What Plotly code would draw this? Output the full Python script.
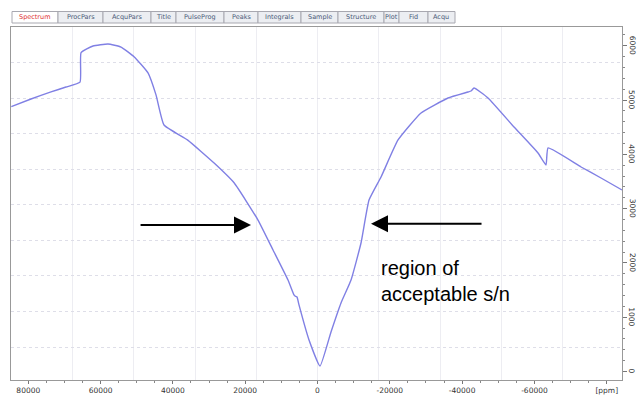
import plotly.graph_objects as go

# ---- data ----
ppm = [84700, 79250, 73720, 69570, 65690, 65400, 62100, 57950, 54350, 50750,
       46880, 44670, 42460, 35900, 28600, 23030, 16460, 12300, 8160, 6500,
       6220, 5670, 5120, 2350, -690, -3730, -6500, -9270, -12030, -14250,
       -17570, -22270, -28630, -36100, -41630, -42460, -43290, -47160, -54350,
       -60990, -63200, -63760, -72890, -78420, -84220]
intensity = [4880, 5020, 5150, 5240, 5330, 5873, 5996, 6033, 5977, 5800,
             5500, 5095, 4540, 4262, 3840, 3472, 2790, 2238, 1685, 1409,
             1390, 1372, 1226, 580, 101, 728, 1262, 1685, 2367, 3159,
             3583, 4265, 4762, 5038, 5149, 5167, 5222, 5038, 4504,
             4025, 3804, 4117, 3767, 3564, 3343]

x_tick_vals = [80000, 60000, 40000, 20000, 0, -20000, -40000, -60000, -80000]
x_tick_text = ["80000", "60000", "40000", "20000", "0", "-20000", "-40000", "-60000", "[ppm]"]
y_tick_vals = [0, 1000, 2000, 3000, 4000, 5000, 6000]
y_tick_text = ["0", "1000", "2000", "3000", "4000", "5000", "6000"]

tab_labels = ["Spectrum", "ProcPars", "AcquPars", "Title", "PulseProg", "Peaks",
              "Integrals", "Sample", "Structure", "Plot", "Fid", "Acqu"]
tab_edges_px = [12, 58, 103, 151, 176, 224, 258, 301, 338, 384, 399, 428, 455]

annotation_text = "region of<br>acceptable s/n"

# ---- layout constants (page pixels; body margin removed by post_script) ----
W, H = 638, 395
PL, PR, PT, PB = 11, 622, 27, 380          # plot area edges on the page
L, R, T, B = PL, W - PR, PT, H - PB
XR = [84780, -84220]
YR = [-157, 6346]

fig = go.Figure()
fig.add_trace(go.Scatter(x=ppm, y=intensity, mode="lines",
                         line=dict(color="#8080e4", width=1.4, shape="spline", smoothing=0.4),
                         showlegend=False, hoverinfo="skip"))
# empty trace on overlay axes that carry the faint instrument grid
fig.add_trace(go.Scatter(x=[], y=[], xaxis="x2", yaxis="y2",
                         showlegend=False, hoverinfo="skip"))

tickfont = dict(family="DejaVu Sans", size=7.5, color="#333333")
minor_x = [v for v in range(-85000, 85001, 5000) if v % 20000 != 0]
minor_y = [v for v in range(0, 6301, 200) if v % 1000 != 0]

fig.update_layout(
    template="none",
    width=W, height=H,
    margin=dict(l=L, r=R, t=T, b=B, autoexpand=False),
    paper_bgcolor="white", plot_bgcolor="white",
    xaxis=dict(range=XR, tickmode="array", tickvals=x_tick_vals, ticktext=x_tick_text,
               automargin=False,
               ticks="outside", ticklen=3, tickcolor="#777", tickwidth=1,
               showline=True, linecolor="#999", linewidth=1, mirror=True,
               showgrid=False, zeroline=False, tickfont=tickfont,
               minor=dict(tickmode="array", tickvals=minor_x, ticks="outside",
                          ticklen=2, tickcolor="#888", showgrid=False)),
    yaxis=dict(range=YR, side="right", tickmode="array", tickvals=y_tick_vals,
               ticktext=y_tick_text, showticklabels=False, automargin=False,
               ticks="outside", ticklen=4, tickcolor="#777", tickwidth=1,
               showline=True, linecolor="#999", linewidth=1, mirror=True,
               showgrid=False, zeroline=False,
               minor=dict(tickmode="array", tickvals=minor_y, ticks="outside",
                          ticklen=2, tickcolor="#888", showgrid=False)),
    xaxis2=dict(range=XR, overlaying="x", tick0=0, dtick=16940, showticklabels=False,
                automargin=False,
                ticks="", showgrid=True, gridcolor="#ededf2", gridwidth=1,
                zeroline=False, showline=False),
    yaxis2=dict(range=YR, overlaying="y", tick0=451, dtick=654, showticklabels=False,
                automargin=False,
                ticks="", showgrid=True, gridcolor="#dedee8", griddash="dot", gridwidth=1,
                zeroline=False, showline=False),
)

pw = PR - PL
ph = PB - PT
def px2paper_x(px):
    return (px - PL) / pw
def py2paper_y(py):
    return 1 + (PT - py) / ph

# rotated intensity labels on the right
for v, t in zip(y_tick_vals, y_tick_text):
    fig.add_annotation(x=px2paper_x(632), y=v, xref="paper", yref="y", text=t,
                       showarrow=False, textangle=90, xanchor="center", yanchor="middle",
                       font=tickfont)

# arrows
fig.add_annotation(x=18390, y=2699, ax=49360, ay=2699, axref="x", ayref="y",
                   xref="x", yref="y", text="", showarrow=True,
                   arrowhead=2, arrowsize=1.7, arrowwidth=2, arrowcolor="black")
fig.add_annotation(x=-14800, y=2720, ax=-45780, ay=2720, axref="x", ayref="y",
                   xref="x", yref="y", text="", showarrow=True,
                   arrowhead=2, arrowsize=1.7, arrowwidth=2, arrowcolor="black")
fig.add_annotation(x=-17010, y=1658, xref="x", yref="y", text=annotation_text,
                   showarrow=False, xanchor="left", yanchor="middle", align="left",
                   font=dict(family="Liberation Sans", size=20, color="black"))

# tab bar
top, bot = py2paper_y(11.5), py2paper_y(23)
for i, lab in enumerate(tab_labels):
    x0, x1 = px2paper_x(tab_edges_px[i]), px2paper_x(tab_edges_px[i + 1])
    active = i == 0
    fig.add_shape(type="rect", xref="paper", yref="paper", x0=x0, x1=x1, y0=bot, y1=top,
                  line=dict(color="#a8a8b0", width=1),
                  fillcolor="#ffffff" if active else "#eceef2", layer="above")
    fig.add_annotation(x=(x0 + x1) / 2, y=(top + bot) / 2, xref="paper", yref="paper",
                       text=lab, showarrow=False, xanchor="center", yanchor="middle",
                       font=dict(family="DejaVu Sans", size=6.5,
                                 color="#e03030" if active else "#4a5a78"))

fig.write_html("out.html",
               config={"displayModeBar": False},
               post_script="document.body.style.margin='0';"
                           "document.body.style.overflow='hidden';")
